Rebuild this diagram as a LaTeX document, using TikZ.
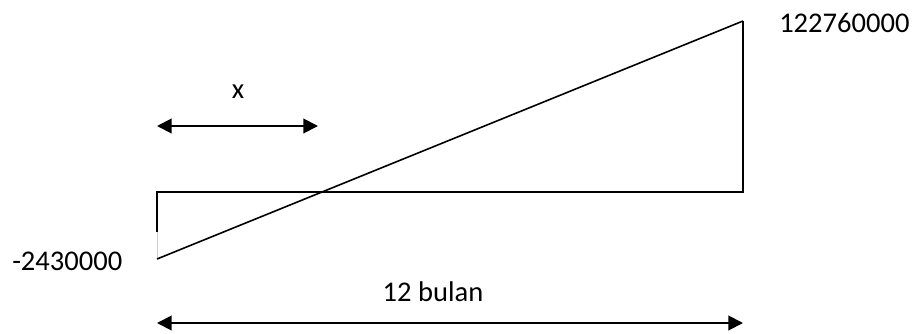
\documentclass[tikz,border=0pt]{standalone}
\usepackage{fontspec}
\setmainfont{Carlito}
\usetikzlibrary{arrows.meta}
\tikzset{
  edge/.style={line width=1.5pt,draw=black},
  span/.style={{Triangle[length=11pt,width=11pt]}-{Triangle[length=11pt,width=11pt]},
    line width=1.5pt,draw=black},
  lbl/.style={font=\fontsize{21.4}{26}\selectfont,inner sep=0pt}
}
\begin{document}
\begin{tikzpicture}[x=0.75pt,y=-0.75pt]
\useasboundingbox (0,0) rectangle (914,333);
% corners of the chart
\coordinate (lo) at (157,259);
\coordinate (lm) at (157,232);
\coordinate (lt) at (157,192);
\coordinate (rb) at (743,192);
\coordinate (rt) at (743,21);
\draw[edge] (lm) -- (lt) -- (rb) -- (rt);
\draw[gray!40,line width=0.5pt] (lm) -- (lo);
\draw[line width=1.2pt] (lo) -- (rt);
% values
\node[lbl,anchor=base west] (top) at (779,32) {122760000};
\node[lbl,anchor=base west] (bot) at (12,270) {-2430000};
% spans
\coordinate (xa) at (157,126);
\coordinate (xb) at (318,126);
\draw[span] (xa) -- (xb);
\node[lbl,anchor=base] (xl) at (238,98) {x};
\coordinate (ma) at (157,323);
\coordinate (mb) at (743,323);
\draw[span] (ma) -- (mb);
\node[lbl,anchor=base] (ml) at (433,301) {12 bulan};
\end{tikzpicture}
\end{document}
